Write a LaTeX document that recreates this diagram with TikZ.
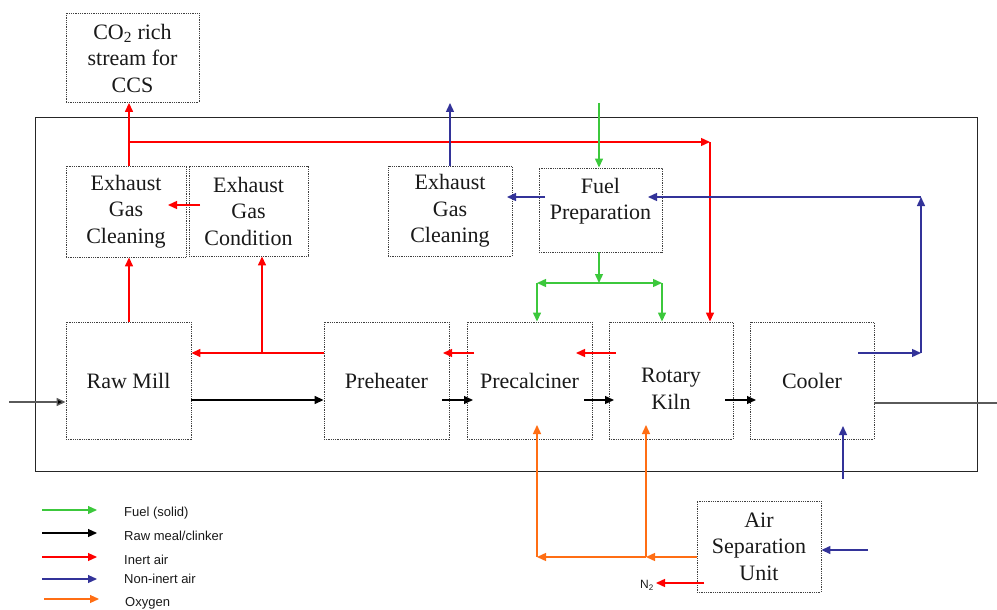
\documentclass[tikz,border=0pt]{standalone}
\usepackage{fontspec}
\setmainfont{Liberation Serif}
\newfontfamily\legfont{Liberation Sans}
\usetikzlibrary{arrows.meta}
\definecolor{cgreen}{RGB}{60,200,60}
\definecolor{cred}{RGB}{255,0,0}
\definecolor{cblue}{RGB}{51,51,153}
\definecolor{corange}{RGB}{255,110,20}
\definecolor{cgray}{RGB}{90,90,90}
\begin{document}
\begin{tikzpicture}[x=1pt,y=-1pt,
  box/.style={draw=black!75, dash pattern=on 0.9pt off 0.9pt, line width=0.9pt, inner sep=0pt, align=center, font=\fontsize{22}{26.5}\selectfont, text=black!90},
  txt/.style={align=center, font=\fontsize{22}{26.5}\selectfont, text=black!90, inner sep=0pt},
  flow/.style={line width=1.4pt, -{Triangle[length=9pt,width=8pt]}},
  plain/.style={line width=1.4pt},
  leg/.style={font=\legfont\fontsize{13}{15}\selectfont, anchor=west, inner sep=0pt, text=black!90}]
\useasboundingbox (0,0) rectangle (997,610);
% outer frame
\draw[line width=1pt, black!85] (35,118) rectangle (977,471);
% boxes
\node[box, minimum width=133pt, minimum height=89pt] (co2) at (132.5,58) {CO\textsubscript{2} rich\\stream for\\CCS};
\node[box, minimum width=120pt, minimum height=91pt] (egc1) at (126,211.5) {Exhaust\\Gas\\Cleaning};
\node[box, minimum width=119pt, minimum height=90pt] (egcond) at (248.5,211) {Exhaust\\Gas\\Condition};
\node[box, minimum width=124pt, minimum height=90pt] (egc2) at (450,211) {Exhaust\\Gas\\Cleaning};
\node[box, minimum width=123pt, minimum height=84pt] (fuel) at (600.5,210) {};
\node[txt] (fueltxt) at (600.5,201) {Fuel\\Preparation};
\node[box, minimum width=125pt, minimum height=117pt] (rawmill) at (128.5,380.5) {Raw Mill};
\node[box, minimum width=125pt, minimum height=117pt] (pre) at (386.5,380.5) {Preheater};
\node[box, minimum width=125pt, minimum height=117pt] (pc) at (529.5,380.5) {Precalciner};
\node[box, minimum width=124pt, minimum height=117pt] (kiln) at (671,380.5) {};
\node[txt] (kilntxt) at (671,389) {Rotary\\Kiln};
\node[box, minimum width=124pt, minimum height=117pt] (cooler) at (812,380.5) {Cooler};
\node[box, minimum width=124pt, minimum height=91pt] (asu) at (759,546.5) {Air\\Separation\\Unit};
% junction / free-end coordinates
\coordinate (rj1) at (129,142);
\coordinate (rj2) at (710,142);
\coordinate (rj3) at (262,353);
\coordinate (r4s) at (200,205);
\coordinate (r4e) at (168,205);
\coordinate (r6s) at (474,353);
\coordinate (r6e) at (443,353);
\coordinate (r7s) at (616,353);
\coordinate (r7e) at (576,353);
\coordinate (kin) at (9,402);
\coordinate (k2s) at (442,400);
\coordinate (k2e) at (473,400);
\coordinate (k3s) at (584,400);
\coordinate (k3e) at (614,400);
\coordinate (k4s) at (725,400);
\coordinate (k4e) at (756,400);
\coordinate (kout) at (997,403);
\coordinate (b1e) at (450,103);
\coordinate (b2s) at (545,197);
\coordinate (b2e) at (507,197);
\coordinate (b3s) at (858,353);
\coordinate (b3c) at (921,353);
\coordinate (b3d) at (921,197);
\coordinate (b3e) at (648,197);
\coordinate (b4s) at (843,479);
\coordinate (b4e) at (843,426);
\coordinate (b5s) at (868,550);
\coordinate (g1s) at (599,103);
\coordinate (gj) at (599,283);
\coordinate (gl) at (537,283);
\coordinate (gr) at (662,283);
\coordinate (oj1) at (646,557);
\coordinate (oj2) at (537,557);
\coordinate (oe1) at (537,425);
\coordinate (oe2) at (646,425);
\coordinate (n2s) at (704,583);
\coordinate (n2e) at (656,583);
% red (inert air)
\draw[flow, cred] (egc1.north -| rj1) -- (co2.south -| rj1);
\draw[flow, cred] (rj1) -- (rj2);
\draw[flow, cred] (rj2) -- (kiln.north -| rj2);
\draw[flow, cred] (rawmill.north -| rj1) -- (egc1.south -| rj1);
\draw[flow, cred] (r4s) -- (r4e);
\draw[flow, cred] (pre.west |- rj3) -- (rawmill.east |- rj3);
\draw[flow, cred] (rj3) -- (egcond.south -| rj3);
\draw[flow, cred] (r6s) -- (r6e);
\draw[flow, cred] (r7s) -- (r7e);
% black (raw meal / clinker)
\draw[flow, cgray, -{Triangle[length=9pt,width=8pt,fill=black]}] (kin) -- (rawmill.west |- kin);
\draw[flow, black] (rawmill.east |- k2s) -- (pre.west |- k2s);
\draw[flow, black] (k2s) -- (k2e);
\draw[flow, black] (k3s) -- (k3e);
\draw[flow, black] (k4s) -- (k4e);
\draw[plain, cgray] (cooler.east |- kout) -- (kout);
% blue (non-inert air)
\draw[flow, cblue] (egc2.north -| b1e) -- (b1e);
\draw[flow, cblue] (b2s) -- (b2e);
\draw[flow, cblue] (b3s) -- (b3c);
\draw[flow, cblue] (b3c) -- (b3d);
\draw[flow, cblue] (b3d) -- (b3e);
\draw[flow, cblue] (b4s) -- (b4e);
\draw[flow, cblue] (b5s) -- (asu.east |- b5s);
% green (fuel)
\draw[flow, cgreen] (g1s) -- (fuel.north -| g1s);
\draw[flow, cgreen] (fuel.south -| gj) -- (gj);
\draw[flow, cgreen] (gj) -- (gl);
\draw[flow, cgreen] (gj) -- (gr);
\draw[flow, cgreen] (gl) -- (pc.north -| gl);
\draw[flow, cgreen] (gr) -- (kiln.north -| gr);
% orange (oxygen)
\draw[flow, corange] (asu.west |- oj1) -- (oj1);
\draw[flow, corange] (oj1) -- (oj2);
\draw[flow, corange] (oj2) -- (oe1);
\draw[flow, corange] (oj1) -- (oe2);
% N2
\draw[flow, cred] (n2s) -- (n2e);
\node[font=\legfont\fontsize{12}{14}\selectfont, anchor=east, inner sep=0pt, text=black!90] (n2) at (654,585) {N\textsubscript{2}};
% legend
\coordinate (l1a) at (42,510); \coordinate (l1b) at (97,510);
\coordinate (l2a) at (42,533); \coordinate (l2b) at (97,533);
\coordinate (l3a) at (42,557); \coordinate (l3b) at (97,557);
\coordinate (l4a) at (42,579); \coordinate (l4b) at (97,579);
\coordinate (l5a) at (44,599); \coordinate (l5b) at (99,599);
\draw[flow, cgreen, line width=1.2pt] (l1a) -- (l1b);
\draw[flow, black, line width=1.2pt] (l2a) -- (l2b);
\draw[flow, cred, line width=1.2pt] (l3a) -- (l3b);
\draw[flow, cblue, line width=1.2pt] (l4a) -- (l4b);
\draw[flow, corange, line width=1.2pt] (l5a) -- (l5b);
\node[leg] (t1) at (124,513) {Fuel (solid)};
\node[leg] (t2) at (124,536) {Raw meal/clinker};
\node[leg] (t3) at (124,560) {Inert air};
\node[leg] (t4) at (124,579) {Non-inert air};
\node[leg] (t5) at (125,603) {Oxygen};
\end{tikzpicture}
\end{document}
